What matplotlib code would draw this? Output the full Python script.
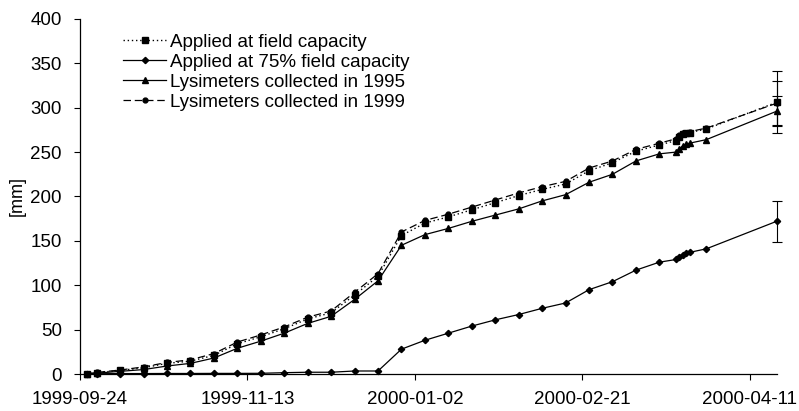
#!/usr/bin/env python3
""" Cumulative drainage from lysimeters, autumn 1999 to spring 2000. """

import numpy as np
import matplotlib
matplotlib.use('Agg')
import matplotlib.pyplot as plt
import matplotlib.dates as mdates

plt.rcParams['font.family'] = ['Liberation Sans', 'DejaVu Sans']

dates = ['1999-09-26', '1999-09-29', '1999-10-06', '1999-10-13', '1999-10-20',
         '1999-10-27', '1999-11-03', '1999-11-10', '1999-11-17', '1999-11-24',
         '1999-12-01', '1999-12-08', '1999-12-15', '1999-12-22', '1999-12-29',
         '2000-01-05', '2000-01-12', '2000-01-19', '2000-01-26', '2000-02-02',
         '2000-02-09', '2000-02-16', '2000-02-23', '2000-03-01', '2000-03-08',
         '2000-03-15', '2000-03-20', '2000-03-21', '2000-03-22', '2000-03-23',
         '2000-03-24', '2000-03-29', '2000-04-19']

field_cap = [0, 1.5, 4, 7, 12, 14.5, 21, 34, 42, 51, 62, 69, 89, 110, 156,
             170, 177, 185, 193, 201, 208, 214, 229, 238, 251, 258,
             263, 267, 270, 271, 272, 276, 306]
field_75 = [0, 0.3, 0.5, 0.5, 0.6, 0.6, 0.7, 0.7, 0.8, 1.5, 2, 2, 3.4, 3.4, 28,
            38, 46, 54, 61, 67, 74, 80, 95, 104, 117, 126,
            129, 132, 134, 136, 137, 141, 172]
lys_1995 = [0, 1, 3, 5, 9, 12, 18, 29, 37, 46, 57, 65, 84, 105, 145,
            157, 164, 172, 179, 186, 195, 202, 216, 225, 240, 248,
            250, 254, 257, 259, 260, 264, 296]
lys_1999 = [0, 1.8, 4.5, 8, 13, 16, 23, 36, 44, 53, 64, 71, 92, 113, 160,
            173, 180, 188, 196, 204, 211, 217, 232, 240, 253, 260,
            265, 269, 271, 272, 273, 277, 305]

# standard deviation at the last sampling date
err_field_cap = 35
err_field_75 = 23
err_1995 = 17
err_1999 = 25

labels = ['Applied at field capacity', 'Applied at 75% field capacity',
          'Lysimeters collected in 1995', 'Lysimeters collected in 1999']

x = np.array(dates, dtype='datetime64[D]')

fig = plt.figure(figsize=(7.99, 4.11), dpi=100)
ax = fig.add_axes([0.100, 0.090, 0.872, 0.864])

ax.plot(x, field_cap, color='black', linestyle=(0, (1, 2)), linewidth=1.0,
        marker='s', markersize=4.5, label=labels[0], zorder=4, clip_on=False)
ax.plot(x, field_75, color='black', linestyle='-', linewidth=0.9,
        marker='D', markersize=3.2, label=labels[1], zorder=3, clip_on=False)
ax.plot(x, lys_1995, color='black', linestyle='-', linewidth=0.9,
        marker='^', markersize=4.5, label=labels[2], zorder=3, clip_on=False)
ax.plot(x, lys_1999, color='black', linestyle=(0, (6, 3)), linewidth=0.9,
        marker='o', markersize=3.5, label=labels[3], zorder=3, clip_on=False)

# error bars on the final point of each series
for ys, err in [(field_cap, err_field_cap), (field_75, err_field_75),
                (lys_1995, err_1995), (lys_1999, err_1999)]:
    eb = ax.errorbar(x[-1:], ys[-1:], yerr=err, fmt='none', ecolor='black',
                     elinewidth=0.8, capsize=3.5, capthick=0.8, zorder=2)
    for art in eb.lines[1] + eb.lines[2]:
        art.set_clip_on(False)

start = np.datetime64('1999-09-24')
ax.set_xlim(start, np.datetime64('2000-04-19'))
ax.set_ylim(0, 400)
ax.set_xticks(start + np.arange(0, 201, 50))
ax.xaxis.set_major_formatter(mdates.DateFormatter('%Y-%m-%d'))
ax.set_yticks(np.arange(0, 401, 50))

ax.spines['top'].set_visible(False)
ax.spines['right'].set_visible(False)
for s in ['left', 'bottom']:
    ax.spines[s].set_linewidth(0.9)
ax.tick_params(axis='both', direction='out', length=4, width=0.8,
               labelsize=13.5, colors='black')
ax.tick_params(axis='y', pad=9)
ax.tick_params(axis='x', pad=8)

ax.set_ylabel('[mm]', fontsize=13)
ax.yaxis.set_label_coords(-0.078, 0.5)

ax.legend(loc='upper left', bbox_to_anchor=(0.062, 0.958), frameon=False,
          fontsize=13.5, labelspacing=0.15, handlelength=2.3,
          handletextpad=0.2, borderpad=0, borderaxespad=0)

fig.savefig('out.png', dpi=100)
